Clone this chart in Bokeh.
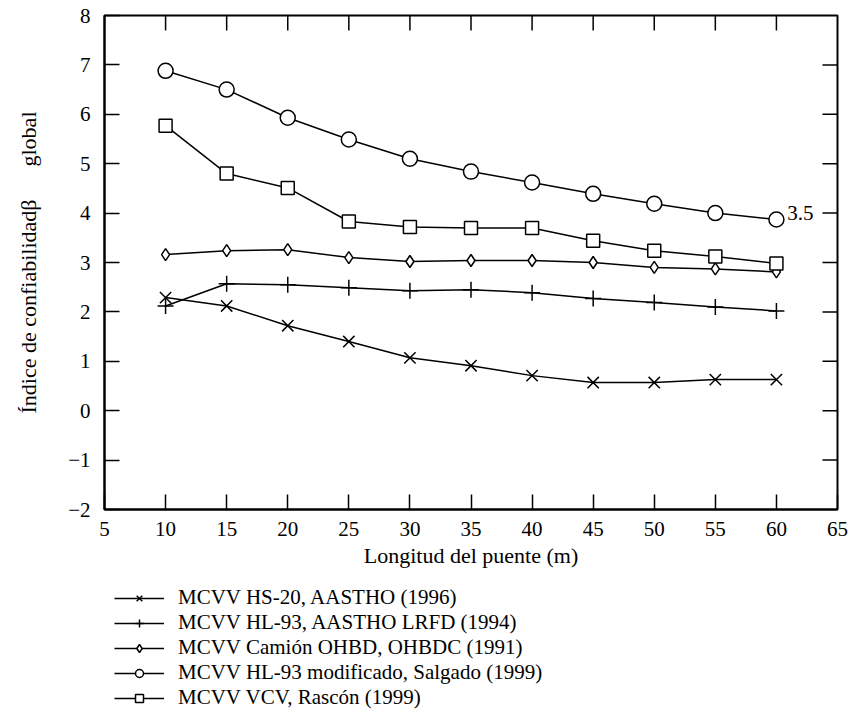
import numpy as np
from bokeh.plotting import figure
from bokeh.layouts import column
from bokeh.models import LinearAxis, FixedTicker, Range1d, Legend, LegendItem, Label
from bokeh.embed import file_html
from bokeh.resources import INLINE

# Bridge span (m)
span = [10, 15, 20, 25, 30, 35, 40, 45, 50, 55, 60]

# Global reliability index for each live-load model
hs20 = [2.29, 2.12, 1.72, 1.40, 1.07, 0.91, 0.71, 0.57, 0.57, 0.63, 0.63]
hl93 = [2.12, 2.57, 2.55, 2.49, 2.43, 2.45, 2.39, 2.27, 2.19, 2.10, 2.02]
ohbd = [3.16, 3.24, 3.26, 3.10, 3.02, 3.04, 3.04, 3.00, 2.90, 2.87, 2.81]
hl93_mod = [6.88, 6.50, 5.93, 5.49, 5.10, 4.84, 4.62, 4.39, 4.19, 4.00, 3.87]
vcv = [5.77, 4.80, 4.51, 3.83, 3.72, 3.70, 3.70, 3.44, 3.24, 3.12, 2.98]

labels = [
    "MCVV HS-20, AASTHO (1996)",
    "MCVV HL-93, AASTHO LRFD (1994)",
    "MCVV Camión OHBD, OHBDC (1991)",
    "MCVV HL-93 modificado, Salgado (1999)",
    "MCVV VCV, Rascón (1999)",
]

x_ticks = [5, 10, 15, 20, 25, 30, 35, 40, 45, 50, 55, 60, 65]
y_ticks = [-2, -1, 0, 1, 2, 3, 4, 5, 6, 7, 8]
top_ticks = [10, 15, 20, 25, 30, 35, 40, 45, 50, 55, 60]
right_ticks = [-1, 0, 1, 2, 3, 4, 5, 6, 7]

SERIF = "Liberation Serif"
X0, X1, Y0, Y1 = 5, 65, -2, 8

p = figure(
    width=851, height=584,
    output_backend="svg", toolbar_location=None,
    x_range=Range1d(X0, X1), y_range=Range1d(Y0, Y1),
    x_axis_location=None, y_axis_location=None,
    min_border_left=104, min_border_right=14,
    min_border_top=15, min_border_bottom=75,
)
p.xgrid.visible = False
p.ygrid.visible = False
p.outline_line_color = "black"
p.outline_line_width = 2
p.background_fill_color = "white"
p.border_fill_color = "white"


def style_axis(ax, ticks):
    ax.ticker = FixedTicker(ticks=ticks)
    ax.minor_tick_line_color = None
    ax.major_tick_in = 15
    ax.major_tick_out = 0
    ax.major_tick_line_width = 1.5
    ax.major_tick_line_color = "black"
    ax.axis_line_color = "black"
    ax.axis_line_width = 2
    ax.major_label_text_font = SERIF
    ax.major_label_text_font_size = "21px"
    ax.major_label_text_color = "black"
    ax.axis_label_text_font = SERIF
    ax.axis_label_text_font_size = "22px"
    ax.axis_label_text_font_style = "normal"
    ax.axis_label_text_color = "black"


xb = LinearAxis(axis_label="Longitud del puente (m)")
style_axis(xb, x_ticks)
xb.major_label_standoff = 12
xb.axis_label_standoff = 4
p.add_layout(xb, "below")

yl = LinearAxis(axis_label="Índice de confiabilidadβ" + "\u00a0" * 6 + "global")
style_axis(yl, y_ticks)
yl.major_label_standoff = 14
yl.axis_label_standoff = 24
p.add_layout(yl, "left")

# Inward ticks along the top and right edges of the frame
p.ray(x=top_ticks, y=[Y1] * len(top_ticks), length=15, length_units="screen",
      angle=-np.pi / 2, line_color="black", line_width=1.5)
p.ray(x=[X1] * len(right_ticks), y=right_ticks, length=15, length_units="screen",
      angle=np.pi, line_color="black", line_width=1.5)

# Series: line plus open markers
specs = [
    (hs20, "x", 16),
    (hl93, "cross", 16),
    (ohbd, "diamond", 12),
    (hl93_mod, "circle", 15),
    (vcv, "square", 13),
]

for vals, marker, size in specs:
    p.line(span, vals, line_color="black", line_width=1.5)
    p.scatter(span, vals, marker=marker, size=size,
              line_color="black", line_width=1.5, fill_color="white")

p.add_layout(Label(x=X1, y=4, x_offset=-24, text="3.5",
                   text_align="right", text_baseline="middle",
                   text_font=SERIF, text_font_size="21px", text_color="black"))

# Legend strip drawn under the chart (its frame lines up with the chart's)
lg = figure(
    width=851, height=140,
    output_backend="svg", toolbar_location=None,
    x_range=Range1d(0, 1), y_range=Range1d(0, 1),
    x_axis_location=None, y_axis_location=None,
    min_border=0,
)
lg.xgrid.visible = False
lg.ygrid.visible = False
lg.outline_line_color = None
lg.background_fill_color = "white"
lg.border_fill_color = "white"

items = []
for (vals, marker, size), lab in zip(specs, labels):
    # off-range sample point so the legend swatch has a glyph to draw
    ln = lg.line([-2, -1], [-2, -1], line_color="black", line_width=1.5)
    mk = lg.scatter([-2], [-2], marker=marker, size=size,
                    line_color="black", line_width=1.5, fill_color="white")
    items.append(LegendItem(label=lab, renderers=[ln, mk]))

legend = Legend(
    items=items,
    location=(10, 14),
    orientation="vertical",
    glyph_width=50, glyph_height=20,
    label_height=20, label_standoff=14,
    spacing=0, padding=0, margin=0,
    label_text_font=SERIF, label_text_font_size="21px",
    label_text_color="black",
    border_line_alpha=0, background_fill_alpha=0,
)
lg.add_layout(legend, "center")

page = column(p, lg, spacing=0)
open("out.html", "w").write(file_html(page, INLINE))
